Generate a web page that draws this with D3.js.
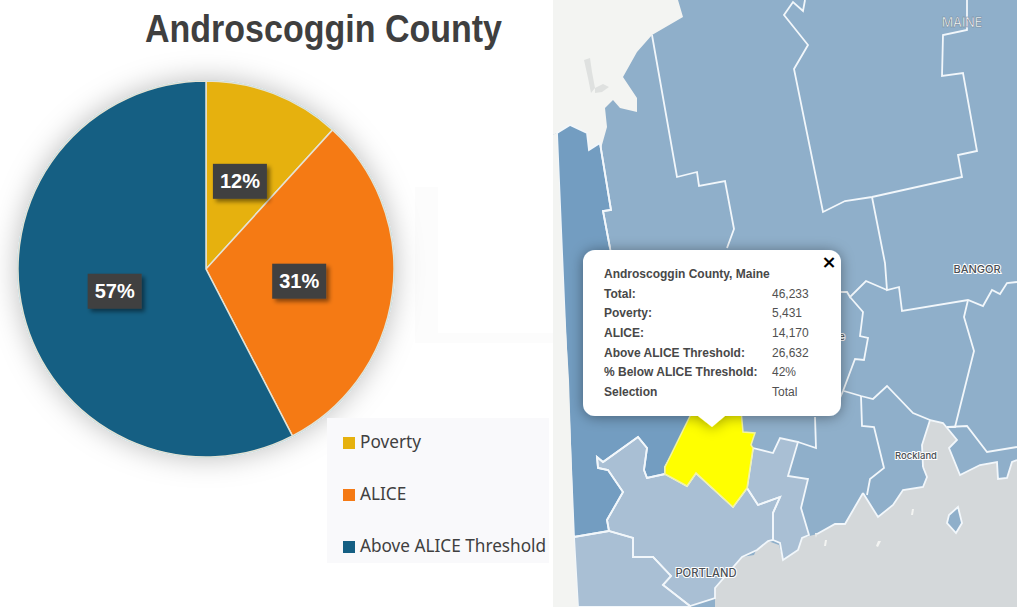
<!DOCTYPE html>
<html>
<head>
<meta charset="utf-8">
<script src="https://cdn.jsdelivr.net/npm/d3@7"></script>
<style>
  html, body { margin: 0; padding: 0; background: #fff; overflow: hidden; }
  svg { display: block; }
</style>
</head>
<body>
<div id="chart"></div>
<script>
// pie data, read from the popup
const categories = ["Poverty", "ALICE", "Above ALICE Threshold"];
const values = [5431, 14170, 26632];
const pieLabels = ["12%", "31%", "57%"];
const colors = ["#e6b10e", "#f57a14", "#155f83"];

const title = "Androscoggin County";

// popup
const popupTitle = "Androscoggin County, Maine";
const popupLabels = ["Total:", "Poverty:", "ALICE:", "Above ALICE Threshold:", "% Below ALICE Threshold:", "Selection"];
const popupValues = ["46,233", "5,431", "14,170", "26,632", "42%", "Total"];

// map outlines
const landNW = [[553,0],[678,0],[683,17],[652,35],[637,52],[623,77],[637,98],[637,112],[620,108],[613,100],[605,108],[607,127],[600,152],[589,150],[587,133],[570,125],[557,133],[553,135]];
const landW = [[553,135],[557,133],[564,300],[569,380],[574,537],[578,607],[553,607]];
const lakes = [
  [[584,60],[590,58],[592,72],[595,88],[591,93],[588,78]],
  [[595,88],[603,84],[609,87],[602,92],[595,93]]
];
const oxford = [[557,133],[570,125],[587,133],[589,150],[600,143],[611,210],[603,211],[610,248],[620,300],[690,400],[693,418],[665,467],[665,474],[647,478],[644,470],[647,448],[638,437],[603,462],[597,457],[598,468],[608,470],[623,492],[607,520],[609,531],[574,537]];
const cumberland = [[597,457],[603,462],[638,437],[647,448],[644,470],[647,478],[665,474],[687,486],[696,473],[733,507],[747,488],[758,505],[780,497],[773,513],[773,540],[768,541],[757,550],[742,557],[715,588],[715,598],[690,606],[663,585],[671,576],[653,557],[633,557],[633,538],[609,531],[607,520],[623,492],[608,470],[598,468]];
const york = [[574,537],[609,531],[633,538],[633,557],[653,557],[671,576],[663,585],[690,606],[690,607],[578,607]];
const sagadahoc = [[753,448],[773,453],[780,438],[798,442],[788,476],[808,479],[801,508],[809,535],[802,538],[798,550],[783,560],[780,543],[773,540],[773,513],[780,497],[758,505],[747,488]];
const androscoggin = [[693,410],[741,410],[743,432],[755,433],[751,445],[753,448],[747,488],[733,507],[696,473],[687,486],[665,474],[665,467]];
const sea = [[715,607],[715,588],[742,557],[754,555],[757,548],[768,541],[779,545],[783,560],[798,550],[802,538],[817,534],[835,524],[845,524],[863,493],[878,517],[893,505],[903,490],[923,487],[927,477],[923,467],[922,445],[930,420],[943,423],[957,440],[949,448],[960,475],[980,465],[997,462],[998,479],[1007,478],[1012,462],[1017,460],[1017,607]];
const island = [[958,507],[962,523],[956,533],[947,523],[949,515]];
const islets = [
  [[878,541],[881,541],[878,547],[876,546]],
  [[825,540],[827,540],[826,546],[824,546]],
  [[912,509],[914,509],[913,515],[911,515]],
  [[815,533],[817,533],[816,538]]
];

const borders = [
  [[652,35],[677,177],[697,172],[699,186],[725,181],[734,229],[727,248]],
  [[600,143],[611,210],[603,211],[610,248]],
  [[805,0],[803,11],[793,2],[784,15],[808,45],[794,69],[823,212],[845,201],[872,197],[962,177],[958,155],[977,151],[963,73],[942,76],[943,35],[967,30],[967,0]],
  [[872,197],[885,263],[887,290],[899,287],[902,311],[968,300],[983,306],[992,290],[1000,294],[1007,283],[1017,282]],
  [[968,300],[964,317],[974,351],[955,427],[947,427]],
  [[887,290],[866,281],[850,297],[847,292],[841,292]],
  [[850,297],[863,312],[860,336],[868,338],[864,360],[855,359],[843,391],[840,398]],
  [[844,391],[861,396],[873,399],[887,386],[913,413],[930,420]],
  [[861,396],[862,426],[874,427],[884,468],[870,479],[867,495]],
  [[948,427],[967,426],[987,452],[1017,447]],
  [[815,417],[816,448],[798,442]],
  [[923,467],[922,445],[930,420],[943,423],[957,440],[949,448],[960,475],[980,465],[997,462],[998,479],[1007,478],[1012,462],[1017,460]],
  [[863,493],[878,517],[893,505],[903,490],[923,487],[927,477],[923,467]],
  [[817,534],[835,524],[845,524],[863,493]]
];

const mapLabels = ["MAINE", "BANGOR", "Rockland", "PORTLAND"];
const mapLabelAt = [[962,27], [977,273], [916,459], [706,577]];

const width = 1017, height = 607;

const svg = d3.select("#chart").append("svg")
  .attr("width", width)
  .attr("height", height);

const defs = svg.append("defs");

const pieShadow = defs.append("filter").attr("id", "pieShadow")
  .attr("x", "-20%").attr("y", "-20%").attr("width", "140%").attr("height", "140%");
pieShadow.append("feDropShadow")
  .attr("dx", 0).attr("dy", 0).attr("stdDeviation", 14)
  .attr("flood-color", "#000").attr("flood-opacity", 0.26);

const boxShadow = defs.append("filter").attr("id", "boxShadow")
  .attr("x", "-30%").attr("y", "-30%").attr("width", "170%").attr("height", "170%");
boxShadow.append("feDropShadow")
  .attr("dx", 3).attr("dy", 3).attr("stdDeviation", 2)
  .attr("flood-color", "#000").attr("flood-opacity", 0.45);

const popShadow = defs.append("filter").attr("id", "popShadow")
  .attr("x", "-10%").attr("y", "-15%").attr("width", "120%").attr("height", "130%");
popShadow.append("feDropShadow")
  .attr("dx", 0).attr("dy", 1).attr("stdDeviation", 7)
  .attr("flood-color", "#000").attr("flood-opacity", 0.4);

defs.append("clipPath").attr("id", "mapClip")
  .append("rect").attr("x", 553).attr("y", 0).attr("width", width - 553).attr("height", height);

// pie shadow stops short at the bottom in the screenshot
defs.append("clipPath").attr("id", "pieClip")
  .append("rect").attr("x", -206).attr("y", -269).attr("width", 620).attr("height", 737);

// left panel
svg.append("rect").attr("x", 415).attr("y", 187).attr("width", 138).attr("height", 156).attr("fill", "#fcfcfc");
svg.append("rect").attr("x", 438).attr("y", 187).attr("width", 115).attr("height", 146).attr("fill", "#fff");

svg.append("text")
  .text(title)
  .attr("x", 145)
  .attr("y", 42)
  .attr("textLength", 357)
  .attr("lengthAdjust", "spacingAndGlyphs")
  .attr("font-family", "'Liberation Sans Narrow', 'Liberation Sans', sans-serif")
  .attr("font-size", 38)
  .attr("font-weight", "bold")
  .attr("fill", "#3f3f3f");

const radius = 188;
const pie = d3.pie().sort(null)(values);
const arc = d3.arc().innerRadius(0).outerRadius(radius);

const pieG = svg.append("g").attr("transform", "translate(206,269)");

pieG.append("g").attr("clip-path", "url(#pieClip)")
  .append("circle")
  .attr("r", radius + 1)
  .attr("fill", "#a9d6e8")
  .attr("filter", "url(#pieShadow)");

pieG.selectAll("path.slice")
  .data(pie)
  .enter()
  .append("path")
  .attr("class", "slice")
  .attr("d", arc)
  .attr("fill", (d, i) => colors[i])
  .attr("stroke", "#e4e2d4")
  .attr("stroke-width", 1.5);

const labelG = pieG.selectAll("g.pct")
  .data(pie)
  .enter()
  .append("g")
  .attr("class", "pct")
  .attr("transform", d => "translate(" + arc.centroid(d) + ")");

labelG.append("rect")
  .attr("x", -27).attr("y", -17.5)
  .attr("width", 54).attr("height", 35)
  .attr("fill", "#404040")
  .attr("filter", "url(#boxShadow)");

labelG.append("text")
  .text((d, i) => pieLabels[i])
  .attr("text-anchor", "middle")
  .attr("y", 7)
  .attr("font-family", "'Liberation Sans', sans-serif")
  .attr("font-size", 20)
  .attr("font-weight", "bold")
  .attr("fill", "#fff");

// legend
svg.append("rect").attr("x", 327).attr("y", 418).attr("width", 222).attr("height", 145).attr("fill", "#f9f9fb");

const legendY = d3.scalePoint().domain(categories).range([442, 546]);

const legend = svg.selectAll("g.legend")
  .data(categories)
  .enter()
  .append("g")
  .attr("class", "legend")
  .attr("transform", d => "translate(343," + legendY(d) + ")");

legend.append("rect")
  .attr("y", -5).attr("width", 12).attr("height", 12)
  .attr("fill", (d, i) => colors[i]);

legend.append("text")
  .text(d => d)
  .attr("x", 17)
  .attr("y", 6)
  .attr("font-family", "'Noto Sans', sans-serif")
  .attr("font-size", 17.2)
  .attr("fill", "#404040");

// map
const map = svg.append("g").attr("clip-path", "url(#mapClip)");
const line = d3.line();
const closed = d3.line().curve(d3.curveLinearClosed);

map.append("rect").attr("x", 553).attr("y", 0).attr("width", width - 553).attr("height", height).attr("fill", "#8fafca");

const areas = [
  [landNW, "#f3f4f2"],
  [landW, "#f3f4f2"],
  [lakes[0], "#dfe1e0"],
  [lakes[1], "#dfe1e0"],
  [oxford, "#739dc1"],
  [sea, "#d4d8da"],
  [island, "#8fafca"],
  [islets[0], "#f3f4f2"],
  [islets[1], "#f3f4f2"],
  [islets[2], "#f3f4f2"],
  [islets[3], "#f3f4f2"],
  [cumberland, "#a9bfd4"],
  [york, "#a9bfd4"],
  [sagadahoc, "#a9bfd4"]
];

map.selectAll("path.area")
  .data(areas)
  .enter()
  .append("path")
  .attr("class", "area")
  .attr("d", d => closed(d[0]))
  .attr("fill", d => d[1]);

map.selectAll("path.border")
  .data(borders)
  .enter()
  .append("path")
  .attr("class", "border")
  .attr("d", line)
  .attr("fill", "none")
  .attr("stroke", "#f2f7fb")
  .attr("stroke-width", 1.8);

[cumberland, york, sagadahoc, oxford, island].forEach(s => {
  map.append("path").attr("d", closed(s)).attr("fill", "none").attr("stroke", "#f2f7fb").attr("stroke-width", 1.8);
});

map.append("path")
  .attr("d", closed(androscoggin))
  .attr("fill", "#ffff00")
  .attr("stroke", "#f3f3a0")
  .attr("stroke-width", 1.5);

// the land edge sits over the county borders
map.append("path").attr("d", closed(landW)).attr("fill", "#f3f4f2");

map.selectAll("text.place")
  .data(mapLabels)
  .enter()
  .append("text")
  .attr("class", "place")
  .text(d => d)
  .attr("x", (d, i) => mapLabelAt[i][0])
  .attr("y", (d, i) => mapLabelAt[i][1])
  .attr("text-anchor", "middle")
  .attr("font-family", "Inter, sans-serif")
  .attr("font-size", (d, i) => [12.5, 11, 9.5, 11.2][i])
  .attr("font-weight", 500)
  .attr("fill", (d, i) => i === 0 ? "#fff" : "#4a4f55")
  .attr("stroke", (d, i) => i === 0 ? "#6f7f8f" : "#fff")
  .attr("stroke-width", (d, i) => i === 0 ? 0.5 : 2)
  .attr("paint-order", (d, i) => i === 0 ? "normal" : "stroke");

// cut off place name behind the popup
map.append("text").text("e").attr("x", 839).attr("y", 340)
  .attr("font-family", "Inter, sans-serif").attr("font-size", 10).attr("fill", "#4a4f55")
  .attr("stroke", "#fff").attr("stroke-width", 2).attr("paint-order", "stroke");

// popup
const popup = svg.append("g");

popup.append("path")
  .attr("d", "M595,250H829a12,12 0 0 1 12,12V404a12,12 0 0 1 -12,12H725L712,427L698,416H595a12,12 0 0 1 -12,-12V262a12,12 0 0 1 12,-12Z")
  .attr("fill", "#fff")
  .attr("filter", "url(#popShadow)");

const rowY = d3.scalePoint().domain(d3.range(popupLabels.length + 1)).range([278, 396]);
const popFont = "'Liberation Sans', sans-serif";

popup.append("text").text(popupTitle)
  .attr("x", 604).attr("y", rowY(0))
  .attr("font-family", popFont).attr("font-size", 12).attr("font-weight", "bold").attr("fill", "#484848");

popup.selectAll("text.rowLabel")
  .data(popupLabels)
  .enter()
  .append("text")
  .attr("class", "rowLabel")
  .text(d => d)
  .attr("x", 604)
  .attr("y", (d, i) => rowY(i + 1))
  .attr("font-family", popFont)
  .attr("font-size", 12)
  .attr("font-weight", "bold")
  .attr("fill", "#484848");

popup.selectAll("text.rowValue")
  .data(popupValues)
  .enter()
  .append("text")
  .attr("class", "rowValue")
  .text(d => d)
  .attr("x", 772)
  .attr("y", (d, i) => rowY(i + 1))
  .attr("font-family", popFont)
  .attr("font-size", 12)
  .attr("fill", "#505050");

popup.append("text").text("×")
  .attr("x", 829).attr("y", 268)
  .attr("text-anchor", "middle")
  .attr("font-family", "'DejaVu Sans', sans-serif")
  .attr("font-size", 18)
  .attr("font-weight", "bold")
  .attr("fill", "#000");
</script>
</body>
</html>
